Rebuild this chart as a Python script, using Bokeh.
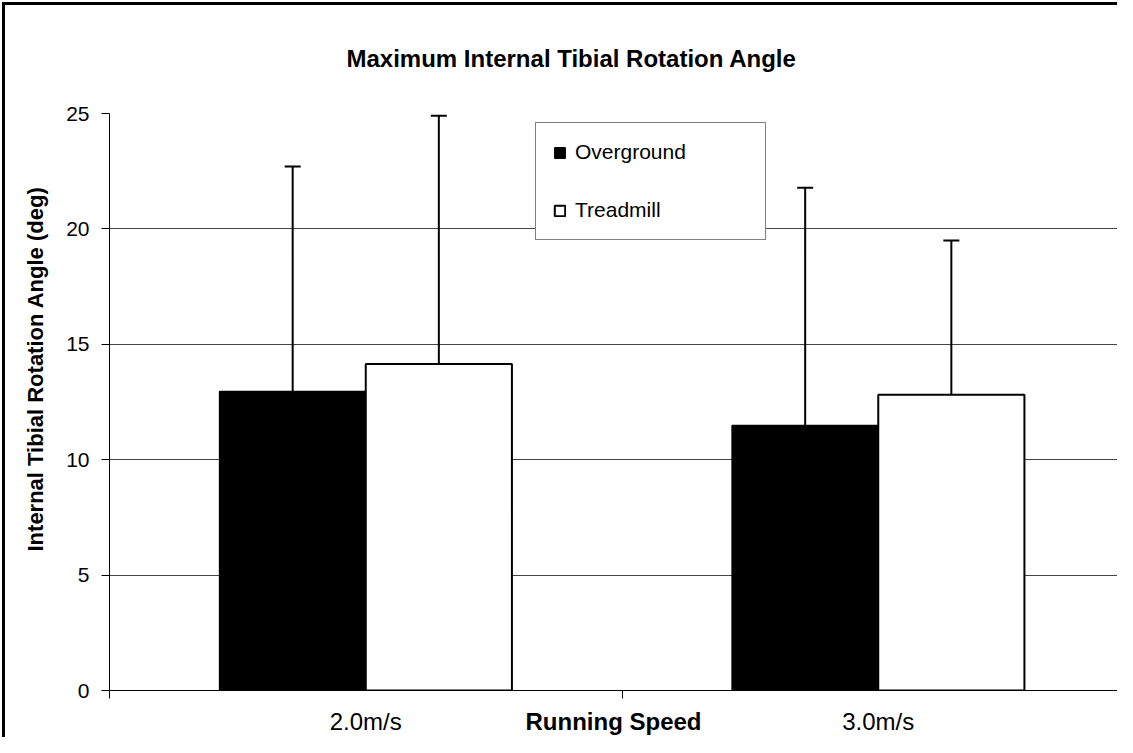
from bokeh.plotting import figure
from bokeh.models import (ColumnDataSource, Range1d, FixedTicker, Whisker, TeeHead,
                          Legend, LegendItem, Title)
from bokeh.transform import dodge
from bokeh.embed import file_html
from bokeh.resources import INLINE

# ---------------- data ----------------
chart_title = "Maximum Internal Tibial Rotation Angle"
y_title = "Internal Tibial Rotation Angle (deg)"
x_title = "Running Speed"
categories = ["2.0m/s", "3.0m/s"]
series_names = ["Overground", "Treadmill"]
overground_mean = [12.95, 11.48]
overground_sd = [9.75, 10.30]
treadmill_mean = [14.15, 12.81]
treadmill_sd = [10.75, 6.69]
y_ticks = [0, 5, 10, 15, 20, 25]

FONT = "Liberation Sans"
BAR_W = 0.2852
OFF = BAR_W / 2

xc = [i + 0.5 for i in range(len(categories))]
bounds = [float(i) for i in range(len(categories) + 1)]

source = ColumnDataSource(dict(
    x=xc,
    og=overground_mean,
    tm=treadmill_mean,
    og_up=[m + s for m, s in zip(overground_mean, overground_sd)],
    tm_up=[m + s for m, s in zip(treadmill_mean, treadmill_sd)],
))

p = figure(width=1117, height=737,
           x_range=Range1d(0, 1.9668), y_range=Range1d(0, 25),
           output_backend="svg", toolbar_location=None,
           min_border_left=109, min_border_right=0,
           min_border_top=113, min_border_bottom=47)
p.outline_line_color = None
p.background_fill_color = "white"
p.border_fill_color = None
p.styles = {"box-shadow": "inset 2px 2px 0 0 white, inset 5px 5px 0 0 black",
            "background-color": "white"}

# title
p.title.text = chart_title
p.title.align = "left"
p.title.vertical_align = "bottom"
p.title.offset = 237
p.title.standoff = 84
p.title.text_font = FONT
p.title.text_font_size = "24px"
p.title.text_font_style = "bold"
p.title.text_color = "black"

# bars
r_og = p.vbar(x=dodge("x", -OFF), top="og", width=BAR_W, source=source,
              fill_color="black", line_color="black", line_width=1.5)
r_tm = p.vbar(x=dodge("x", OFF), top="tm", width=BAR_W, source=source,
              fill_color="white", line_color="black", line_width=2)

# one-sided error bars
for xf, lo, up in [(-OFF, "og", "og_up"), (OFF, "tm", "tm_up")]:
    w = Whisker(source=source, base=dodge("x", xf), lower=lo, upper=up,
                dimension="height", line_color="black", line_width=2,
                upper_head=TeeHead(size=16, line_width=2, line_color="black"),
                lower_head=None, level="annotation")
    p.add_layout(w)

# axes
xa = p.xaxis[0]
xa.ticker = FixedTicker(ticks=xc, minor_ticks=bounds)
xa.major_label_overrides = {x: c for x, c in zip(xc, categories)}
xa.major_tick_out = 0
xa.major_tick_in = 0
xa.minor_tick_out = 8
xa.minor_tick_in = 0
xa.minor_tick_line_color = "black"
xa.axis_line_color = "black"
xa.major_label_text_font = FONT
xa.major_label_text_font_size = "24px"
xa.major_label_text_color = "black"
xa.major_label_standoff = 9
xa.axis_label = x_title
xa.axis_label_text_font = FONT
xa.axis_label_text_font_size = "24px"
xa.axis_label_text_font_style = "bold"
xa.axis_label_text_color = "black"
xa.axis_label_standoff = -30

ya = p.yaxis[0]
ya.ticker = FixedTicker(ticks=y_ticks, minor_ticks=[])
ya.major_tick_out = 8
ya.major_tick_in = 0
ya.major_tick_line_color = "black"
ya.axis_line_color = "black"
ya.major_label_text_font = FONT
ya.major_label_text_font_size = "21px"
ya.major_label_text_color = "black"
ya.major_label_standoff = 12

p.xgrid.visible = False
p.ygrid.ticker = FixedTicker(ticks=y_ticks)
p.ygrid.grid_line_color = "#444444"
p.ygrid.grid_line_width = 1

# y-axis title (placed as a side title so it can be offset along the axis)
p.add_layout(Title(text=y_title, align="left", offset=139, standoff=31,
                   text_font=FONT, text_font_size="22px",
                   text_font_style="bold", text_color="black"), "left")

# legend
legend = Legend(items=[LegendItem(label=series_names[0], renderers=[r_og]),
                       LegendItem(label=series_names[1], renderers=[r_tm])],
                location=(426, 450), orientation="vertical",
                padding=17, spacing=34, margin=0,
                label_height=24, glyph_height=13, glyph_width=13,
                label_standoff=9, label_width=173,
                label_text_font=FONT, label_text_font_size="21px",
                label_text_color="black",
                border_line_color="black", border_line_width=1,
                background_fill_color="white", background_fill_alpha=1)
p.add_layout(legend)

open("out.html", "w").write(file_html(p, INLINE))
